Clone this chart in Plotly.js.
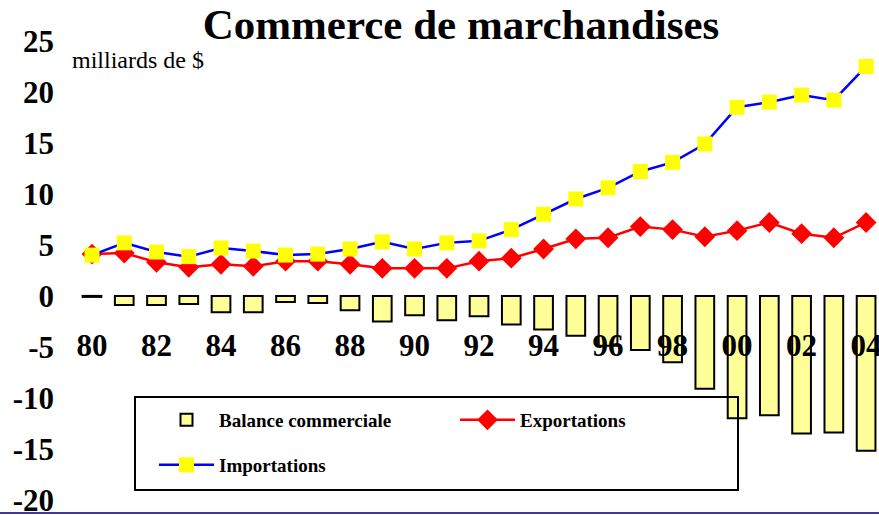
<!DOCTYPE html>
<html>
<head>
<meta charset="utf-8">
<script src="https://cdn.plot.ly/plotly-3.0.1.min.js"></script>
<style>html,body{margin:0;padding:0;background:#fff;}#chart{width:879px;height:515px;}</style>
</head>
<body>
<div id="chart"></div>
<script>
// Data (billions of $), years 1980-2004
const years = [1980,1981,1982,1983,1984,1985,1986,1987,1988,1989,1990,1991,1992,1993,1994,1995,1996,1997,1998,1999,2000,2001,2002,2003,2004];
const balance = [-0.1,-0.9,-0.9,-0.8,-1.6,-1.6,-0.6,-0.7,-1.4,-2.5,-1.9,-2.4,-2.0,-2.8,-3.3,-3.9,-4.9,-5.3,-6.5,-9.1,-12.0,-11.7,-13.5,-13.4,-15.2];
const exportsV = [4.1,4.2,3.3,2.8,3.1,2.9,3.4,3.4,3.1,2.7,2.7,2.7,3.4,3.7,4.6,5.6,5.7,6.8,6.5,5.8,6.4,7.2,6.1,5.7,7.2];
const importsV = [4.0,5.2,4.3,3.85,4.7,4.4,4.0,4.1,4.6,5.3,4.6,5.2,5.4,6.5,8.0,9.5,10.6,12.2,13.1,14.9,18.5,19.0,19.7,19.2,22.5];
const xTickVals = [1980,1982,1984,1986,1988,1990,1992,1994,1996,1998,2000,2002,2004];
const xTickText = ['80','82','84','86','88','90','92','94','96','98','00','02','04'];
const yTickVals = [-20,-15,-10,-5,0,5,10,15,20,25];
const yTickText = ['-20','-15','-10','-5','0','5','10','15','20','25'];

const serif = 'Liberation Serif, Times New Roman, serif';
const L = 60, R = 0, T = 41, B = 15;
const W = 879, H = 515;
const pw = W - L - R, ph = H - T - B;
const px = v => (v - L) / pw;
const py = v => (H - B - v) / ph;

const traces = [
  {type:'bar', x:years, y:balance, name:'Balance commerciale', width:0.58,
   marker:{color:'#ffff99', line:{color:'#000', width:2}}, legend:'legend'},
  {type:'scatter', mode:'lines+markers', x:years, y:exportsV, name:'Exportations',
   line:{color:'#ff0000', width:2.5}, marker:{symbol:'diamond', size:16, color:'#ff0000'}, legend:'legend'},
  {type:'scatter', mode:'lines+markers', x:years, y:importsV, name:'Importations',
   line:{color:'#0000ff', width:2.5}, marker:{symbol:'square', size:15, color:'#ffff00'}, legend:'legend2'}
];

const layout = {
  width:W, height:H,
  margin:{l:L, r:R, t:T, b:B, pad:0},
  paper_bgcolor:'#fff', plot_bgcolor:'rgba(0,0,0,0)',
  showlegend:true,
  title:{text:'<b>Commerce de marchandises</b>', font:{family:serif, size:43, color:'#000'},
         x:461/W, xanchor:'center', y:(H-24)/H, yanchor:'middle', xref:'container', yref:'container'},
  xaxis:{range:[1979.008, 2004.4], tickvals:xTickVals, ticktext:xTickText,
         showgrid:false, zeroline:false, showline:false, ticks:'',
         anchor:'free', position:0.3835, ticklabeloverflow:'allow',
         tickfont:{family:serif, size:31, color:'#000', weight:'bold'}},
  yaxis:{range:[-20.02,25], tickvals:yTickVals, ticktext:yTickText,
         showgrid:false, zeroline:false, showline:false, ticks:'', ticklabelstandoff:5,
         ticklabeloverflow:'allow',
         tickfont:{family:serif, size:31, color:'#000', weight:'bold'}},
  legend:{orientation:'h', x:px(154), y:py(401), xanchor:'left', yanchor:'top',
          bgcolor:'rgba(0,0,0,0)', borderwidth:0, itemwidth:55, entrywidth:231,
          font:{family:serif, size:19, color:'#000', weight:'bold'}},
  legend2:{orientation:'h', x:px(154), y:py(446), xanchor:'left', yanchor:'top',
          bgcolor:'rgba(0,0,0,0)', borderwidth:0, itemwidth:55,
          font:{family:serif, size:19, color:'#000', weight:'bold'}},
  shapes:[
    {type:'rect', xref:'paper', yref:'paper', x0:px(135), x1:px(738), y0:py(490), y1:py(397),
     line:{color:'#000', width:2}, fillcolor:'rgba(0,0,0,0)', layer:'above'},
    {type:'line', xref:'paper', yref:'paper', x0:px(0), x1:px(879), y0:py(513), y1:py(513),
     line:{color:'#3b3b9c', width:2}, layer:'above'}
  ],
  annotations:[
    {text:'milliards de $', xref:'paper', yref:'paper', x:px(70), y:py(60), xanchor:'left', yanchor:'middle',
     showarrow:false, font:{family:serif, size:24, color:'#000'}}
  ],
  bargap:0.4
};

Plotly.newPlot('chart', traces, layout, {displayModeBar:false, staticPlot:true});
</script>
</body>
</html>
